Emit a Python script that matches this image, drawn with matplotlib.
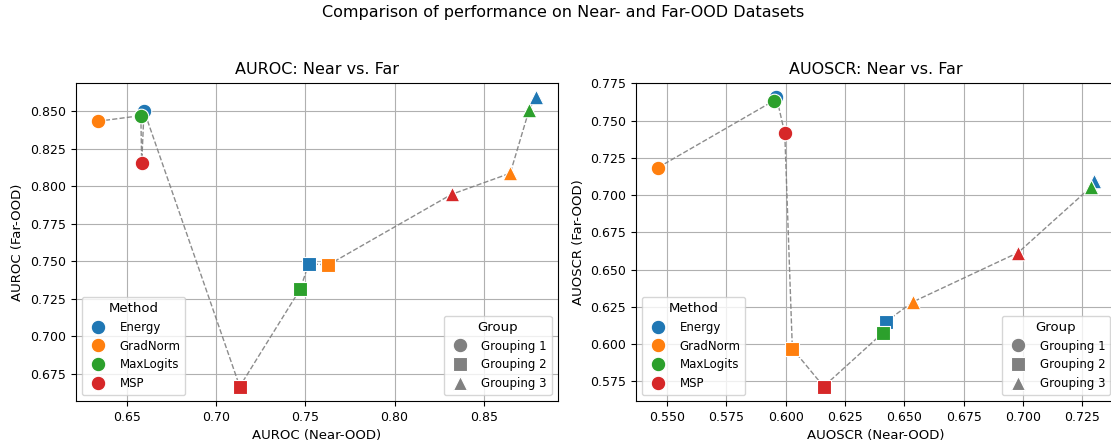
import numpy as np
import matplotlib
matplotlib.use("Agg")
import matplotlib.pyplot as plt
from matplotlib.lines import Line2D

methods = ["Energy", "GradNorm", "MaxLogits", "MSP"]
groups = ["Grouping 1", "Grouping 2", "Grouping 3"]

# values[method][group]
auroc_near = {
    "Energy":    [0.6597, 0.7519, 0.8791],
    "GradNorm":  [0.6337, 0.7629, 0.8648],
    "MaxLogits": [0.6579, 0.7472, 0.8754],
    "MSP":       [0.6584, 0.7133, 0.8319],
}
auroc_far = {
    "Energy":    [0.8504, 0.7483, 0.8594],
    "GradNorm":  [0.8433, 0.7476, 0.8087],
    "MaxLogits": [0.8471, 0.7315, 0.8511],
    "MSP":       [0.8153, 0.6665, 0.7946],
}
auoscr_near = {
    "Energy":    [0.5961, 0.6421, 0.7300],
    "GradNorm":  [0.5461, 0.6028, 0.6535],
    "MaxLogits": [0.5951, 0.6410, 0.7285],
    "MSP":       [0.5996, 0.6160, 0.6980],
}
auoscr_far = {
    "Energy":    [0.7657, 0.6149, 0.7094],
    "GradNorm":  [0.7184, 0.5970, 0.6283],
    "MaxLogits": [0.7634, 0.6077, 0.7052],
    "MSP":       [0.7415, 0.5716, 0.6615],
}

colors = {"Energy": "#1f77b4", "GradNorm": "#ff7f0e", "MaxLogits": "#2ca02c", "MSP": "#d62728"}
markers = {"Grouping 1": "o", "Grouping 2": "s", "Grouping 3": "^"}
S = 110

plt.rcParams["xtick.labelsize"] = 9
plt.rcParams["ytick.labelsize"] = 9
plt.rcParams["axes.labelsize"] = 9.5

W, H = 1111, 448
fig = plt.figure(figsize=(W / 100, H / 100), dpi=100)
ax1 = fig.add_axes([75.7 / W, 47 / H, 482 / W, 318.3 / H])
ax2 = fig.add_axes([636 / W, 47 / H, 480 / W, 318.3 / H])


def draw(ax, near, far, title, xlabel, ylabel):
    xs, ys = [], []
    for m in methods:
        for gi, g in enumerate(groups):
            xs.append(near[m][gi])
            ys.append(far[m][gi])
    order = np.argsort(xs, kind="stable")
    ax.plot(np.array(xs)[order], np.array(ys)[order], linestyle="--", color="gray",
            linewidth=1, alpha=0.9, zorder=2)
    for m in methods:
        for gi, g in enumerate(groups):
            ax.scatter(near[m][gi], far[m][gi], s=S, c=colors[m], marker=markers[g],
                       edgecolors="white", linewidths=0.8, zorder=3)
    ax.grid(True, zorder=0)
    ax.set_axisbelow(True)
    ax.set_title(title, fontsize=11.5)
    ax.set_xlabel(xlabel)
    ax.set_ylabel(ylabel)
    ms = np.sqrt(S)
    h1 = [Line2D([], [], marker="o", linestyle="", color=colors[m], markersize=ms,
                 markeredgecolor="white", markeredgewidth=0.8) for m in methods]
    leg1 = ax.legend(h1, methods, title="Method", loc="lower left", fontsize=8.5,
                     title_fontsize=9.5)
    ax.add_artist(leg1)
    h2 = [Line2D([], [], marker=markers[g], linestyle="", color="gray", markersize=ms,
                 markeredgecolor="white", markeredgewidth=0.8) for g in groups]
    ax.legend(h2, groups, title="Group", loc="lower right", fontsize=8.5, title_fontsize=9.5)


draw(ax1, auroc_near, auroc_far, "AUROC: Near vs. Far", "AUROC (Near-OOD)", "AUROC (Far-OOD)")
draw(ax2, auoscr_near, auoscr_far, "AUOSCR: Near vs. Far", "AUOSCR (Near-OOD)", "AUOSCR (Far-OOD)")
ax2.xaxis.set_major_locator(matplotlib.ticker.MultipleLocator(0.025))

fig.text(563.5 / W, 1 - 13 / H, "Comparison of performance on Near- and Far-OOD Datasets",
         ha="center", va="center", fontsize=11.5)

fig.savefig("out.png", dpi=100)
